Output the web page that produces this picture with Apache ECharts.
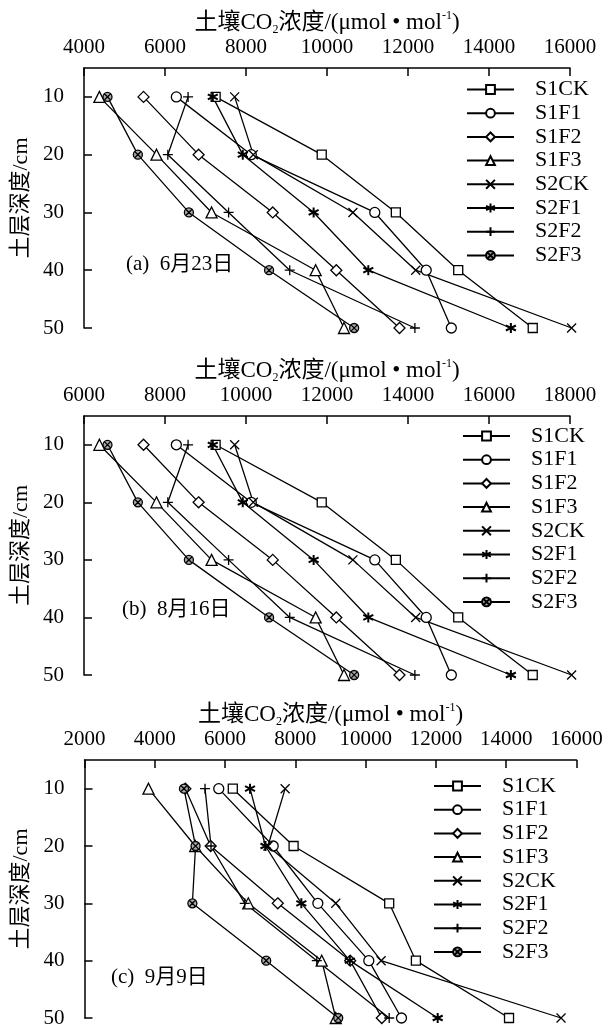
<!DOCTYPE html>
<html>
<head>
<meta charset="utf-8">
<script src="https://cdn.jsdelivr.net/npm/echarts@6/dist/echarts.min.js"></script>
<style>
html, body { margin: 0; padding: 0; background: #fff; }
#chart { width: 615px; height: 1030px; }
</style>
</head>
<body>
<div id="chart"></div>
<script>
const depths = [10, 20, 30, 40, 50]
const names = ['S1CK', 'S1F1', 'S1F2', 'S1F3', 'S2CK', 'S2F1', 'S2F2', 'S2F3']
const depthTicks = [10, 20, 30, 40, 50]

// (a) 6月23日
const junS1CK = [7250, 9870, 11700, 13240, 15080]
const junS1F1 = [6280, 8130, 11180, 12450, 13070]
const junS1F2 = [5470, 6830, 8660, 10230, 11790]
const junS1F3 = [4380, 5790, 7150, 9720, 10420]
const junS2CK = [7720, 8180, 10640, 12190, 16040]
const junS2F1 = [7180, 7920, 9670, 11020, 14540]
const junS2F2 = [6570, 6070, 7570, 9080, 12170]
const junS2F3 = [4580, 5330, 6590, 8570, 10670]

// (b) 8月16日
const augS1CK = [9250, 11870, 13700, 15240, 17080]
const augS1F1 = [8280, 10130, 13180, 14450, 15070]
const augS1F2 = [7470, 8830, 10660, 12230, 13790]
const augS1F3 = [6380, 7790, 9150, 11720, 12420]
const augS2CK = [9720, 10180, 12640, 14190, 18040]
const augS2F1 = [9180, 9920, 11670, 13020, 16540]
const augS2F2 = [8570, 8070, 9570, 11080, 14170]
const augS2F3 = [6580, 7330, 8590, 10570, 12670]

// (c) 9月9日
const sepS1CK = [6220, 7950, 10670, 11430, 14080]
const sepS1F1 = [5820, 7370, 8640, 10090, 11020]
const sepS1F2 = [4870, 5590, 7500, 9560, 10460]
const sepS1F3 = [3820, 5150, 6660, 8750, 9150]
const sepS2CK = [7710, 7220, 9150, 10440, 15560]
const sepS2F1 = [6710, 7150, 8170, 9550, 12050]
const sepS2F2 = [5430, 5600, 6560, 8610, 10670]
const sepS2F3 = [4830, 5160, 5070, 7170, 9220]

const serif = "'Liberation Serif', 'Noto Sans CJK SC', serif"

const panels = [
  { label: '(a)  6月23日', min: 4000, max: 16000,
    values: [junS1CK, junS1F1, junS1F2, junS1F3, junS2CK, junS2F1, junS2F2, junS2F3],
    grid: { left: 84, top: 68, width: 486, height: 260 },
    legend: { left: 466, top: 78.5 }, note: { left: 126, top: 254 } },
  { label: '(b)  8月16日', min: 6000, max: 18000,
    values: [augS1CK, augS1F1, augS1F2, augS1F3, augS2CK, augS2F1, augS2F2, augS2F3],
    grid: { left: 84, top: 416, width: 486, height: 259 },
    legend: { left: 462, top: 425 }, note: { left: 122, top: 599 } },
  { label: '(c)  9月9日', min: 2000, max: 16000,
    values: [sepS1CK, sepS1F1, sepS1F2, sepS1F3, sepS2CK, sepS2F1, sepS2F2, sepS2F3],
    grid: { left: 84.5, top: 760, width: 492, height: 258 },
    legend: { left: 433, top: 775 }, note: { left: 111, top: 967 } }
]

// 标记样式
const markers = {
  S1CK: { symbol: 'rect', size: 9, fill: '#fff' },
  S1F1: { symbol: 'circle', size: 10, fill: '#fff' },
  S1F2: { symbol: 'diamond', size: 11, fill: '#fff' },
  S1F3: { symbol: 'triangle', size: 11, fill: '#fff' },
  S2CK: { symbol: 'path://M0,0L10,10M10,0L0,10', size: 9, fill: '#fff' },
  S2F1: { symbol: 'path://M5,0L5,10M0.7,2.5L9.3,7.5M9.3,2.5L0.7,7.5', size: 10, fill: '#fff', width: 2 },
  S2F2: { symbol: 'path://M5,0L5,10M0,5L10,5', size: 10, fill: '#fff' },
  S2F3: { symbol: 'path://M10,5A5,5 0 1 1 0,5A5,5 0 1 1 10,5Z M1.8,1.8L8.2,8.2M8.2,1.8L1.8,8.2', size: 9, fill: '#aaa' }
}

const grid = []
const xAxis = []
const yAxis = []
const legend = []
const series = []
const graphic = []

panels.forEach((p, i) => {
  grid.push(p.grid)
  xAxis.push({
    type: 'value', gridIndex: i, position: 'top',
    min: p.min, max: p.max, interval: 2000,
    name: '土壤CO{sub|2}浓度/(μmol • mol{sup|-1})',
    nameLocation: 'middle', nameGap: 31,
    nameTextStyle: {
      fontFamily: serif, fontSize: 23, color: '#000', lineHeight: 26,
      rich: {
        sub: { fontFamily: serif, fontSize: 12, color: '#000', verticalAlign: 'bottom', lineHeight: 12 },
        sup: { fontFamily: serif, fontSize: 12, color: '#000', verticalAlign: 'top', lineHeight: 12 }
      }
    },
    axisLine: { show: true, lineStyle: { color: '#000', width: 1.5 } },
    axisTick: { show: true, inside: true, length: 8, lineStyle: { color: '#000', width: 1.5 } },
    axisLabel: { fontFamily: serif, fontSize: 21, color: '#000', margin: 10, formatter: v => String(v) },
    splitLine: { show: false }
  })
  yAxis.push({
    type: 'value', gridIndex: i, inverse: true, min: 5, max: 50,
    name: '土层深度/cm', nameLocation: 'middle', nameGap: 51,
    nameTextStyle: { fontFamily: serif, fontSize: 22, color: '#000' },
    axisLine: { show: true, lineStyle: { color: '#000', width: 1.5 } },
    axisTick: { show: true, inside: true, length: 8, customValues: depthTicks, lineStyle: { color: '#000', width: 1.5 } },
    axisLabel: { fontFamily: serif, fontSize: 21, color: '#000', margin: 20, customValues: depthTicks },
    splitLine: { show: false }
  })
  legend.push({
    data: names, orient: 'vertical', left: p.legend.left, top: p.legend.top, padding: 0,
    itemWidth: 47, itemHeight: 11, itemGap: 1.7,
    textStyle: { fontFamily: serif, fontSize: 22, color: '#000', lineHeight: 20, padding: [0, 0, 0, 16] },
    selectedMode: false
  })
  names.forEach((n, k) => {
    const m = markers[n]
    series.push({
      name: n, type: 'line', xAxisIndex: i, yAxisIndex: i,
      data: p.values[k].map((v, j) => [v, depths[j]]),
      symbol: m.symbol, symbolSize: m.size, showSymbol: true, clip: false,
      lineStyle: { color: '#000', width: 1.3 },
      itemStyle: { color: m.fill, borderColor: '#000', borderWidth: m.width || 1.3 },
      emphasis: { disabled: true }
    })
  })
  graphic.push({
    type: 'text', left: p.note.left, top: p.note.top,
    style: { text: p.label, fontFamily: serif, fontSize: 21, fill: '#000' }
  })
})

const chart = echarts.init(document.getElementById('chart'))
chart.setOption({
  animation: false,
  backgroundColor: '#fff',
  grid, xAxis, yAxis, legend, series, graphic
})
</script>
</body>
</html>
